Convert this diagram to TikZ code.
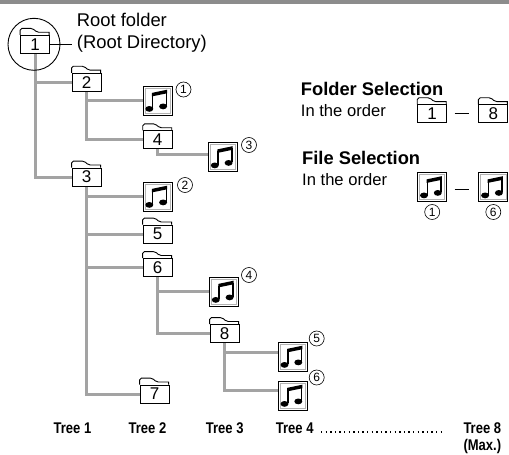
\documentclass[tikz,border=0pt]{standalone}
\usepackage{fontspec}
\setmainfont{Liberation Sans}
\newfontfamily\treefont[FakeStretch=0.84]{Liberation Sans}
\usetikzlibrary{backgrounds,calc}
\definecolor{branchgray}{HTML}{A3A3A3}
\definecolor{bargray}{HTML}{8C8C8C}
\tikzset{
  branch/.style={draw=branchgray, line width=3pt},
  folder/.style={draw, line width=0.9pt, fill=white, minimum width=29pt, minimum height=18pt,
    inner sep=0pt, font=\fontsize{17}{17}\selectfont},
  foldertab/.style={line width=0.9pt, rounded corners=1.8pt},
  notebox/.style={draw, line width=1pt, fill=white, minimum size=29pt, inner sep=0pt,
    path picture={
      \begin{scope}[shift={(path picture bounding box.center)}]
        \draw[gray!60, line width=0.7pt] (-12.6,-12.6) rectangle (12.6,12.6);
        \fill[black, rotate around={25:(-8.2,8.4)}] (-8.2,8.4) ellipse [x radius=4pt, y radius=2.9pt];
        \fill[black, rotate around={25:(5.6,5.9)}] (5.6,5.9) ellipse [x radius=4pt, y radius=2.9pt];
        \draw[black, line width=1.5pt] (-4.9,7.8) -- (-4.9,-6);
        \draw[black, line width=1.5pt] (8.9,5.3) -- (8.9,-9);
        \fill[black] (-5.65,-7.6) -- (9.65,-10.8) -- (9.65,-7.2) -- (-5.65,-4.1) -- cycle;
      \end{scope}
    }},
  cnum/.style={circle, draw, line width=0.6pt, minimum size=15pt, inner sep=0pt,
    font=\fontsize{12}{12}\selectfont},
  lab/.style={anchor=base west, inner sep=0pt, font=\fontsize{18.4}{20}\selectfont},
  leghead/.style={anchor=base west, inner sep=0pt, font=\bfseries\fontsize{18.3}{20}\selectfont},
  legtext/.style={anchor=base west, inner sep=0pt, font=\fontsize{16.6}{18}\selectfont},
  treelab/.style={anchor=base, inner sep=0pt, font=\treefont\bfseries\fontsize{15.5}{17}\selectfont},
  thinline/.style={line width=0.8pt},
  legdash/.style={line width=1pt}
}
\begin{document}
\begin{tikzpicture}[x=1pt, y=-1pt]
\useasboundingbox (0,0) rectangle (509,455);
\fill[bargray] (0,0) rectangle (509,4.2);

% root circle and labels
\node[circle, draw, line width=0.9pt, minimum size=52pt, inner sep=0pt] (rc) at (34,44.3) {};
\node[lab] (t1) at (76.7,26) {Root folder};
\node[lab] (t2) at (76.7,48.5) {(Root Directory)};

% folders
\node[folder] (f1) at (35,44.3) {1};
\node[folder] (f2) at (86.5,82.2) {2};
\node[folder] (f3) at (86.5,177) {3};
\node[folder] (f4) at (157.7,139.8) {4};
\node[folder] (f5) at (157.5,234) {5};
\node[folder] (f6) at (157.5,267.5) {6};
\node[folder] (f7) at (154.5,394) {7};
\node[folder] (f8) at (224.5,333.5) {8};
\node[folder] (l1) at (432.2,113.7) {1};
\node[folder] (l8) at (493.3,113.7) {8};
\foreach \f in {f1,f2,f3,f4,f5,f6,f7,f8,l1,l8}
  \draw[foldertab] (\f.north west) -- ++(0,-6.5) -- ++(12.5,0) -- ++(4.3,3.9) [sharp corners] -- ++(12.2,0) -- ++(0,2.6);

% music files
\node[notebox] (n1) at (157.5,100.5) {};
\node[notebox] (n2) at (157.5,196.5) {};
\node[notebox] (n3) at (223,157) {};
\node[notebox] (n4) at (224,291.5) {};
\node[notebox] (n5) at (292.7,356.5) {};
\node[notebox] (n6) at (292.7,395.5) {};
\node[notebox] (m1) at (432.2,187) {};
\node[notebox] (m6) at (493.3,187) {};

% circled numbers
\node[cnum] (c1) at (183.5,89.5) {1};
\node[cnum] (c2) at (185,185) {2};
\node[cnum] (c3) at (249,145) {3};
\node[cnum] (c4) at (249,275) {4};
\node[cnum] (c5) at (316.7,338.5) {5};
\node[cnum] (c6) at (316.7,377.5) {6};
\node[cnum] (d1) at (432.2,212) {1};
\node[cnum] (d6) at (493.3,212) {6};

% root directory pointer
\coordinate (rdend) at (71.7,44.3);
\draw[thinline] (f1.east) -- (rdend);

% legend
\node[leghead] (fs) at (300.7,95) {Folder Selection};
\node[legtext] (fo) at (300.7,116) {In the order};
\node[leghead] (ls) at (302,164) {File Selection};
\node[legtext] (lo) at (302,185) {In the order};
\draw[legdash] ([xshift=7.5pt]l1.east) -- ([xshift=-9.5pt]l8.west);
\draw[legdash] ([xshift=7.5pt,yshift=-2pt]m1.east) -- ([xshift=-9.5pt,yshift=-2pt]m6.west);

% tree labels
\node[treelab] (tr1) at (72.5,433) {Tree 1};
\node[treelab] (tr2) at (147.5,433) {Tree 2};
\node[treelab] (tr3) at (224.7,433) {Tree 3};
\node[treelab] (tr4) at (294.7,433) {Tree 4};
\node[treelab, anchor=base west] (tr8) at (463.3,433) {Tree 8};
\node[treelab, anchor=base west] (trm) at (463.3,450) {(Max.)};
\coordinate (dotA) at (321,431.8);
\coordinate (dotB) at (441,431.8);
\draw[line width=1.4pt, dash pattern=on 1.4pt off 3.2pt] (dotA) -- (dotB);

% branches
\coordinate (n3a) at ($(n3.west)+(0,-3)$);
\coordinate (n5a) at ($(n5.west)+(0,-4.5)$);
\coordinate (n6a) at ($(n6.west)+(0,-5)$);
\begin{scope}[on background layer]
  \fill[white] (0,4.2) rectangle (509,455);
  \draw[branch] (f1.south) |- (f3.west);
  \draw[branch] (f1.south |- f2.west) -- (f2.west);
  \draw[branch] (f2.south) |- (f4.west);
  \draw[branch] (f2.south |- n1.west) -- (n1.west);
  \draw[branch] (f4.south) |- (n3a);
  \draw[branch] (f3.south) |- (f7.west);
  \draw[branch] (f3.south |- n2.west) -- (n2.west);
  \draw[branch] (f3.south |- f5.west) -- (f5.west);
  \draw[branch] (f3.south |- f6.west) -- (f6.west);
  \draw[branch] (f6.south) |- (f8.west);
  \draw[branch] (f6.south |- n4.west) -- (n4.west);
  \draw[branch] (f8.south) |- (n6a);
  \draw[branch] (f8.south |- n5a) -- (n5a);
\end{scope}
\end{tikzpicture}
\end{document}
